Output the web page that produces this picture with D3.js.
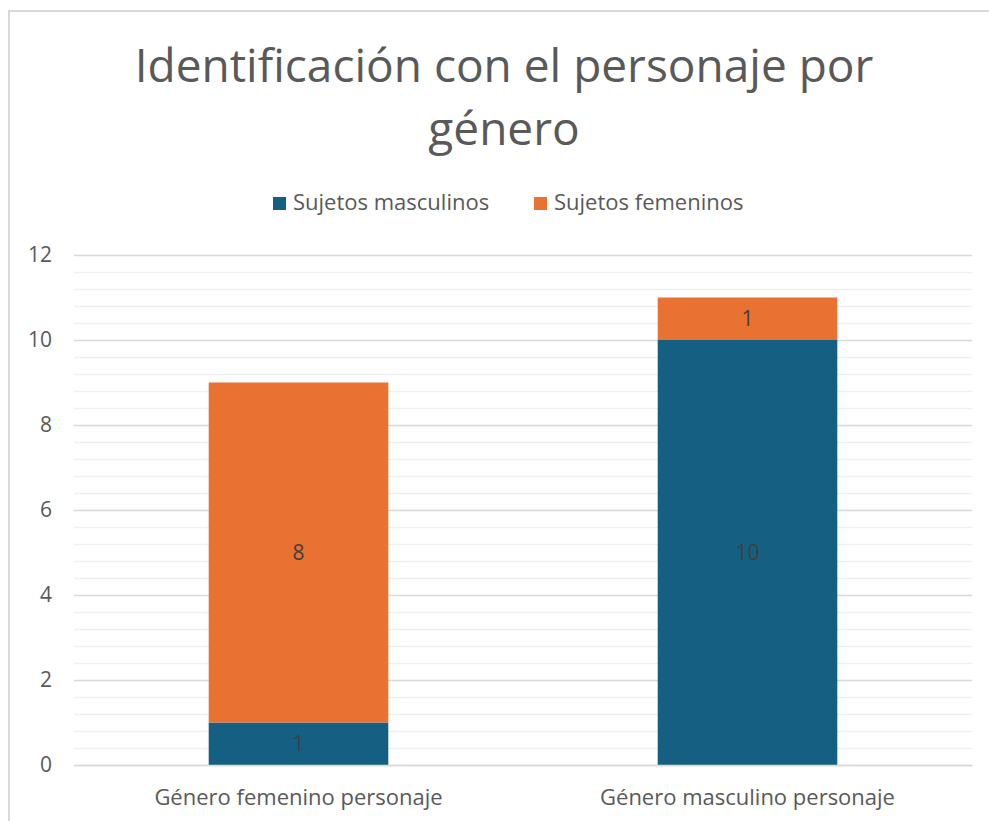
<!DOCTYPE html>
<html>
<head>
<meta charset="utf-8">
<script src="https://cdn.jsdelivr.net/npm/d3@7"></script>
<style>
  body { margin: 0; background: #fff; }
  svg { display: block; font-family: "Open Sans", sans-serif; }
</style>
</head>
<body>
<svg id="chart" width="989" height="821"></svg>
<script>
const categories = ["Género femenino personaje", "Género masculino personaje"];
const seriesNames = ["Sujetos masculinos", "Sujetos femeninos"];
const masculinos = [1, 10];
const femeninos = [8, 1];
const yTicks = [0, 2, 4, 6, 8, 10, 12];
const colors = ["#156082", "#E97132"];

const svg = d3.select("#chart");
const width = +svg.attr("width");
const height = +svg.attr("height");

// chart frame
svg.append("rect")
  .attr("x", 9).attr("y", 11)
  .attr("width", width + 20).attr("height", height + 20)
  .attr("fill", "none")
  .attr("stroke", "#d9d9d9")
  .attr("stroke-width", 2);

// title
const title = svg.append("text")
  .attr("text-anchor", "middle")
  .attr("fill", "#595959")
  .attr("font-size", 46);
title.append("tspan").attr("x", 504).attr("y", 82).text("Identificación con el personaje por");
title.append("tspan").attr("x", 504).attr("y", 145).text("género");

const margin = { left: 74, right: 972, top: 255, bottom: 765 };

const x = d3.scaleBand()
  .domain(categories)
  .range([margin.left, margin.right]);

const y = d3.scaleLinear()
  .domain([0, 12])
  .range([margin.bottom, margin.top]);

// minor gridlines
svg.append("g")
  .selectAll("line")
  .data(d3.range(0, 12.01, 0.4).filter(v => Math.abs(v / 2 - Math.round(v / 2)) > 0.01))
  .join("line")
  .attr("x1", margin.left).attr("x2", margin.right)
  .attr("y1", d => Math.round(y(d)) + 0.5).attr("y2", d => Math.round(y(d)) + 0.5)
  .attr("stroke", "#f0f0f0")
  .attr("stroke-width", 1.5);

// major gridlines + y labels
const yAxis = d3.axisLeft(y)
  .tickValues(yTicks)
  .tickSize(-(margin.right - margin.left))
  .tickPadding(22);

const yg = svg.append("g")
  .attr("transform", `translate(${margin.left},0)`)
  .call(yAxis);
yg.select(".domain").remove();
yg.selectAll(".tick line").attr("stroke", "#d9d9d9").attr("stroke-width", 1.5);
yg.selectAll(".tick text")
  .attr("fill", "#595959")
  .attr("font-size", 21)
  .attr("font-family", "Open Sans, sans-serif");

// stacked bars
const table = categories.map((c, i) => ({ cat: c, "Sujetos masculinos": masculinos[i], "Sujetos femeninos": femeninos[i] }));
const stack = d3.stack().keys(seriesNames)(table);

const barW = x.bandwidth() * 0.4;

const layers = svg.append("g")
  .selectAll("g")
  .data(stack)
  .join("g")
  .attr("fill", (d, i) => colors[i]);

layers.selectAll("rect")
  .data(d => d)
  .join("rect")
  .attr("x", d => x(d.data.cat) + (x.bandwidth() - barW) / 2)
  .attr("y", d => y(d[1]))
  .attr("width", barW)
  .attr("height", d => y(d[0]) - y(d[1]));

layers.selectAll("text")
  .data(d => d)
  .join("text")
  .attr("x", d => x(d.data.cat) + x.bandwidth() / 2)
  .attr("y", d => (y(d[0]) + y(d[1])) / 2)
  .attr("dy", "0.35em")
  .attr("text-anchor", "middle")
  .attr("fill", "#404040")
  .attr("font-size", 21)
  .text(d => d[1] - d[0]);

// x axis
const xAxis = d3.axisBottom(x).tickSize(0).tickPadding(24);
const xg = svg.append("g")
  .attr("transform", `translate(0,${margin.bottom})`)
  .call(xAxis);
xg.select(".domain").attr("stroke", "#d9d9d9").attr("stroke-width", 1.5);
xg.selectAll(".tick text")
  .attr("fill", "#595959")
  .attr("font-size", 22)
  .attr("font-family", "Open Sans, sans-serif");

// legend
const legendItems = [
  { name: seriesNames[0], color: colors[0], x: 273 },
  { name: seriesNames[1], color: colors[1], x: 534 }
];
const legend = svg.append("g")
  .selectAll("g")
  .data(legendItems)
  .join("g")
  .attr("transform", d => `translate(${d.x},197)`);
legend.append("rect")
  .attr("width", 13).attr("height", 13)
  .attr("fill", d => d.color);
legend.append("text")
  .attr("x", 20).attr("y", 13)
  .attr("fill", "#595959")
  .attr("font-size", 22)
  .text(d => d.name);
</script>
</body>
</html>
